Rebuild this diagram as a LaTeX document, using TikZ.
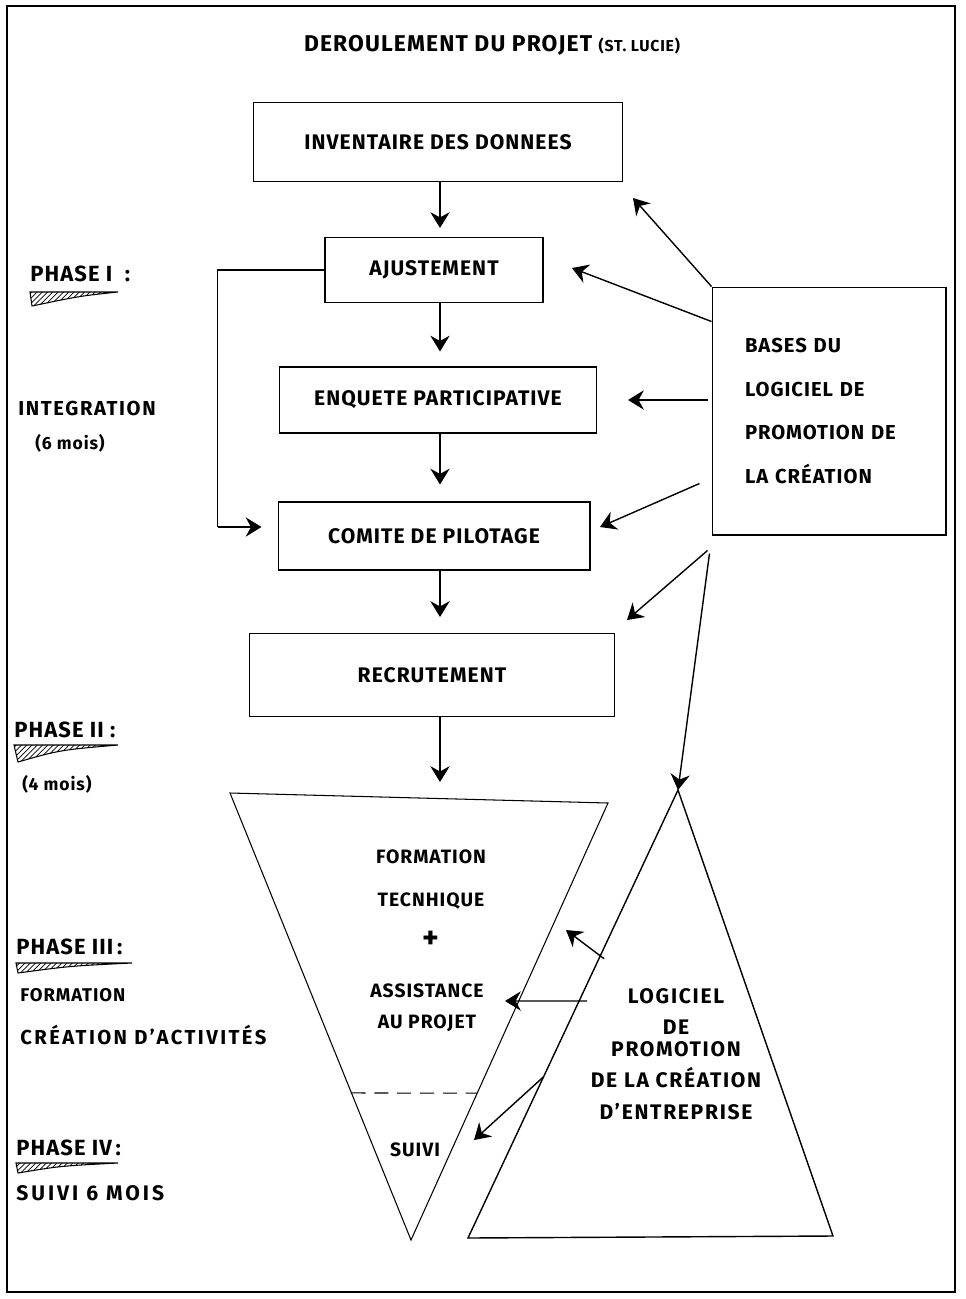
\documentclass[tikz,border=0pt]{standalone}
\usepackage{fontspec}
\setmainfont{Fira Sans}[LetterSpace=5]
\usetikzlibrary{positioning, arrows.meta, calc, patterns}

\tikzset{
    box/.style={draw, semithick, rectangle, align=center, font=\fontsize{12}{14}\bfseries},
    flow/.style={-{Stealth[length=9pt, width=11pt, inset=3pt]}, thick},
    wedge/.style={semithick, pattern=north east lines},
    lbl/.style={anchor=west, inner sep=0pt, font=\fontsize{12.5}{14}\bfseries},
    note/.style={anchor=west, inner sep=0pt, font=\fontsize{10.5}{12}\bfseries},
    trtext/.style={inner sep=0pt, align=center, font=\fontsize{11}{13}\bfseries},
}

\begin{document}
\begin{tikzpicture}[x=0.02cm, y=-0.02cm]
    \useasboundingbox (0,0) rectangle (966,1299);
    \draw [line width=1.6pt] (7,6) rectangle (955,1292);

    % title
    \node (title) at (492,45) {\fontsize{13}{14}\bfseries DEROULEMENT DU PROJET {\fontsize{9}{10}\bfseries (ST. LUCIE)}};

    % main chain
    \node (inv) [box, minimum width=7.4cm, minimum height=1.58cm] at (438,142) {INVENTAIRE DES DONNEES};
    \node (ajust) [box, minimum width=4.36cm, minimum height=1.3cm] at (434,270) {AJUSTEMENT};
    \node (enquete) [box, minimum width=6.34cm, minimum height=1.32cm] at (438,400) {ENQUETE PARTICIPATIVE};
    \node (comite) [box, minimum width=6.24cm, minimum height=1.36cm] at (434,536) {COMITE DE PILOTAGE};
    \node (recrut) [box, minimum width=7.3cm, minimum height=1.66cm] at (432,675) {RECRUTEMENT};
    \node (bases) [box, align=left, text width=3.36cm, minimum width=4.68cm, minimum height=4.96cm, font=\fontsize{11.5}{25}\bfseries] at (829,411) {BASES DU\\LOGICIEL DE\\PROMOTION DE\\LA CRÉATION};

    \draw [flow, shorten >=0.18cm] (inv.south -| 440,0) -- (ajust.north -| 440,0);
    \draw [flow, shorten >=0.3cm] (ajust.south -| 440,0) -- (enquete.north -| 440,0);
    \draw [flow, shorten >=0.34cm] (enquete.south -| 440,0) -- (comite.north -| 440,0);
    \draw [flow, shorten >=0.32cm] (comite.south -| 440,0) -- (recrut.north -| 440,0);
    \draw [semithick] (ajust.west) -| ($(comite.west)+(-60,-9)$);
    \draw [flow, shorten >=0.32cm] ($(comite.west)+(-60,-9)$) -- ($(comite.west)+(0,-9)$);

    % triangles
    \coordinate (itl) at (230,793);
    \coordinate (itr) at (608,803);
    \coordinate (ibot) at (411,1240);
    \coordinate (uap) at (678,790);
    \coordinate (ubl) at (468,1238);
    \coordinate (ubr) at (833,1236);
    \draw [semithick] (itl) -- (itr) -- (ibot) -- cycle;
    \draw [thick] (uap) -- (ubr) -- (ubl) -- cycle;
    \draw [semithick, dashed, dash pattern=on 8pt off 5pt] ($(itl)!0.671!(ibot)$) -- ($(itr)!0.664!(ibot)$);
    \draw [flow, shorten >=0.3cm] (recrut.south -| 440,0) -- (440,797);

    % arrows from the bases box
    \coordinate (t1) at (633,198);
    \coordinate (t2) at (572,268);
    \coordinate (t3) at (628,400);
    \coordinate (t4) at (600,527);
    \coordinate (t5) at (627,620);
    \draw [flow] (bases.north west) -- (t1);
    \draw [flow] ($(bases.north west)+(0,35)$) -- (t2);
    \draw [flow] ($(bases.west)+(-4,-11)$) -- (t3);
    \draw [flow] ($(bases.south west)+(-12,-52)$) -- (t4);
    \draw [flow] ($(bases.south west)+(-4,15)$) -- (t5);
    \draw [flow] ($(bases.south west)+(-2,18)$) -- (uap);

    % inside the triangles
    \node (form) [trtext] at (431,857) {FORMATION};
    \node (tech) [trtext] at (431,901) {TECNHIQUE};
    \node (plus) [trtext, font=\fontsize{18}{18}\bfseries] at (431,940) {+};
    \node (assist) [trtext] at (427,991) {ASSISTANCE};
    \node (auproj) [trtext] at (427,1023) {AU PROJET};
    \node (suivi) [trtext] at (415,1150) {SUIVI};
    \node (logiciel) [trtext, font=\fontsize{12}{18}\bfseries\addfontfeatures{LetterSpace=8}] at (676,1054) {LOGICIEL\\DE\\[-6pt]PROMOTION\\DE LA CRÉATION\\D’ENTREPRISE};

    \coordinate (s1) at (566,930);
    \coordinate (s2) at (505,1001);
    \coordinate (s3) at (474,1140);
    \draw [flow] ($(uap)!0.39!(ubl)+(8,-6)$) -- (s1);
    \draw [flow] ($(uap)!0.471!(ubl)+(8,0)$) -- (s2);
    \draw [flow] ($(uap)!0.64!(ubl)$) -- (s3);

    % phases
    \node (ph1) [lbl] at (30,274) {PHASE I\ \ :};
    \draw [wedge] (30,292) -- (118,292) .. controls (80,296) .. (32,306) -- cycle;
    \node (integ) [note, font=\fontsize{11.5}{12}\bfseries\addfontfeatures{LetterSpace=8}] at (18,408) {INTEGRATION};
    \node (six) [note, font=\fontsize{10}{12}\bfseries] at (35,443) {(6 mois)};

    \node (ph2) [lbl] at (14,730) {PHASE II\ :};
    \draw [wedge] (14,745) -- (118,745) .. controls (60,750) .. (18,762) -- cycle;
    \node (quatre) [note, font=\fontsize{10}{12}\bfseries] at (22,784) {(4 mois)};

    \node (ph3) [lbl] at (16,947) {PHASE III\,:};
    \draw [wedge] (16,963) -- (132,963) .. controls (70,966) .. (18,973) -- cycle;
    \node (formlbl) [note] at (20,995) {FORMATION};
    \node (creat) [note, font=\fontsize{11.5}{12}\bfseries\addfontfeatures{LetterSpace=12}] at (20,1035) {CRÉATION D’ACTIVITÉS};

    \node (ph4) [lbl] at (16,1148) {PHASE IV\,:};
    \draw [wedge] (16,1163) -- (118,1163) .. controls (60,1166) .. (18,1173) -- cycle;
    \node (suivilbl) [note, font=\fontsize{12}{12}\bfseries\addfontfeatures{LetterSpace=14}] at (16,1193) {SUIVI 6 MOIS};
\end{tikzpicture}
\end{document}
